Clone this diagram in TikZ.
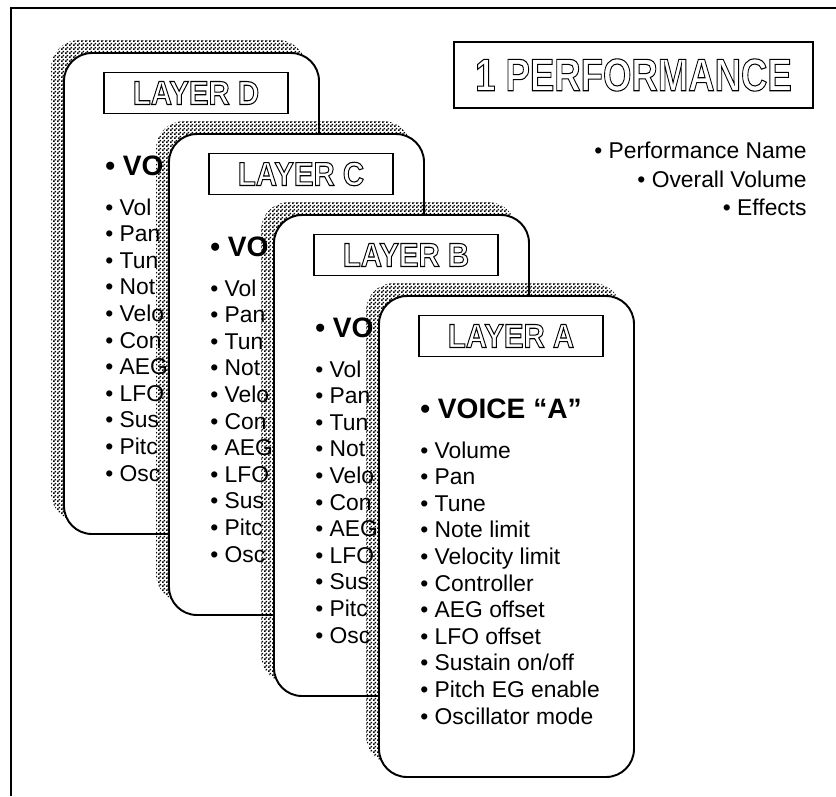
\documentclass[tikz,border=0pt]{standalone}
\usepackage{fontspec}
\setmainfont{Liberation Sans}
\usepackage{graphicx}
\usetikzlibrary{patterns.meta}

% hollow (stroked) lettering
\newcommand{\hollow}[1]{\special{pdf:literal direct 1 Tr 0.6 w}#1\special{pdf:literal direct 0 Tr}}

\tikzdeclarepattern{
  name=dither,
  type=uncolored,
  bottom left={(0pt,0pt)},
  top right={(2pt,2pt)},
  tile size={(2pt,2pt)},
  code={
    \pgfpathrectangle{\pgfpointorigin}{\pgfpoint{1pt}{1pt}}
    \pgfpathrectangle{\pgfpoint{1pt}{1pt}}{\pgfpoint{1pt}{1pt}}
    \pgfusepath{fill}
  }
}

\begin{document}
\begin{tikzpicture}[x=0.02cm,y=-0.02cm,
  card/.style={draw=black,line width=1.1pt,fill=white,rounded corners=0.56cm},
  cardshadow/.style={pattern=dither,pattern color=black,rounded corners=0.56cm},
  titlebox/.style={draw=black,line width=0.9pt,fill=white,minimum width=3.68cm,minimum height=0.82cm,inner sep=0pt},
  item/.style={anchor=base west,inner sep=0pt,font=\fontsize{13}{15}\selectfont},
  voice/.style={anchor=base west,inner sep=0pt,font=\fontsize{16}{18}\selectfont\bfseries}]
\useasboundingbox (0,0) rectangle (836,796);
% frame (cut at right and bottom)
\draw[line width=1.1pt] (11,796) -- (11,8) -- (836,8);
% performance header
\node[draw=black,line width=0.9pt,minimum width=7.18cm,minimum height=1.32cm,inner sep=0pt,
  font=\fontsize{26}{28}\selectfont\bfseries] (perf) at (633.5,75) {\scalebox{0.8}[1]{\hollow{1 PERFORMANCE}}};
\node[item,anchor=base east] (perfname) at (807,158) {• Performance Name};
\node[item,anchor=base east] (perfvol) at (807,187) {• Overall Volume};
\node[item,anchor=base east] (perfeff) at (807,215) {• Effects};
% stacked layer cards, back to front (only A shows its full list)
\foreach \l/\i in {D/0,C/1,B/2,A/3} {
  \pgfmathsetmacro{\cx}{64+105*\i}
  \pgfmathsetmacro{\cy}{53+81*\i}
  \fill[cardshadow] (\cx-13,\cy-13) rectangle ++(255,481);
  \draw[card] (\cx,\cy) rectangle ++(255,481);
  \node[titlebox,font=\fontsize{19}{21}\selectfont\bfseries] (title\l) at (\cx+132,\cy+40) {\scalebox{0.88}[1]{\hollow{LAYER \l}}};
  \node[voice] (voice\l) at (\cx+41,\cy+122) {• \ifnum\i<3 VO\else VOICE “\l”\fi};
  \foreach \t/\s [count=\k] in {Volume/Vol,Pan/Pan,Tune/Tun,Note limit/Not,Velocity limit/Velo,Controller/Con,AEG offset/AEG,LFO offset/LFO,{Sustain on/off}/Sus,Pitch EG enable/Pitc,Oscillator mode/Osc}
    \node[item] (item\l\k) at (\cx+41,\cy+135.4+26.6*\k) {• \ifnum\i<3 \s\else\t\fi};
}
\end{tikzpicture}
\end{document}
